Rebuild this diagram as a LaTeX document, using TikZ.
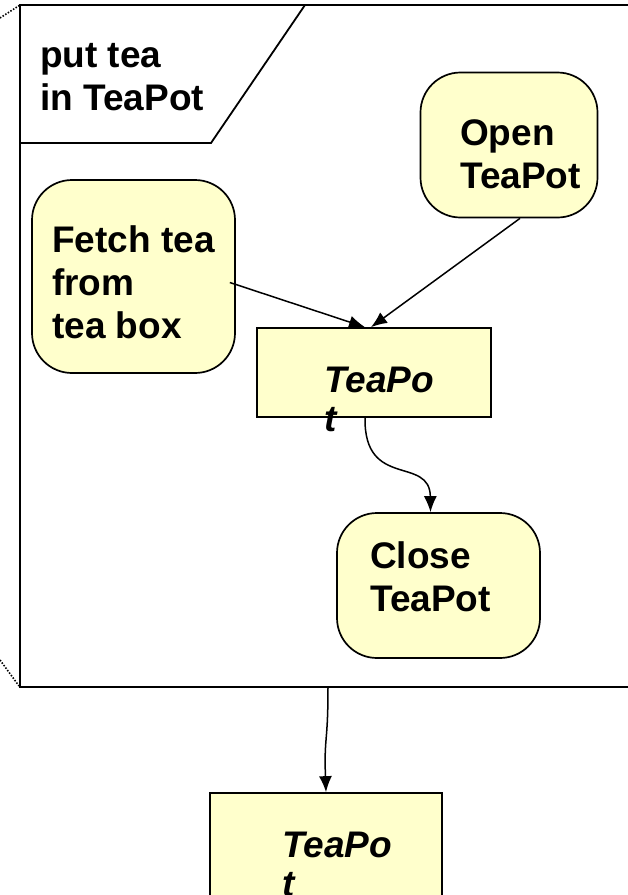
\documentclass[tikz,border=0pt]{standalone}
\usepackage{fontspec}
\setmainfont{Liberation Sans}
\usetikzlibrary{arrows.meta}
\definecolor{boxfill}{RGB}{255,255,204}
\tikzset{
  rbox/.style={draw=black, line width=1.7pt, fill=boxfill, rounded corners=40pt, inner sep=0pt},
  sbox/.style={draw=black, line width=1.7pt, fill=boxfill, inner sep=0pt},
  lbl/.style={anchor=north west, inner sep=0pt, align=left, font=\fontsize{37}{43}\selectfont\bfseries},
  ilbl/.style={anchor=north west, inner sep=0pt, align=left, font=\fontsize{37}{39}\selectfont\bfseries\itshape},
  arr/.style={draw=black, line width=1.5pt, -{Latex[length=16pt,width=13pt]}},
  frameline/.style={draw=black, line width=2.5pt},
  dotline/.style={draw=black, line width=1.6pt, dash pattern=on 1.5pt off 1.6pt}
}
\begin{document}
\begin{tikzpicture}[x=1pt, y=-1pt]
\useasboundingbox (0,0) rectangle (628,895);
\clip (0,0) rectangle (628,895);
\fill[white] (0,0) rectangle (628,895);
% frame
\draw[frameline] (630,5) -- (20,5) -- (20,687) -- (630,687);
\draw[dotline] (0,18) -- (20,5);
\draw[dotline] (0,660) -- (19,686);
\draw[line width=1.8pt] (305,5) -- (211,143) -- (20,143);
\node[lbl] (name) at (40,37) {\strut put tea\\in TeaPot};
\coordinate (fb) at (328,687);
% shapes
\node[rbox, minimum width=177pt, minimum height=145pt] (open) at (509,145) {};
\node[rbox, minimum width=203pt, minimum height=193pt] (fetch) at (133.5,276.5) {};
\node[sbox, minimum width=234pt, minimum height=89pt] (tp) at (374,372.5) {};
\node[rbox, minimum width=203pt, minimum height=145pt] (close) at (438.5,585.5) {};
\node[sbox, minimum width=232pt, minimum height=200pt] (bot) at (326,893) {};
% texts
\node[lbl] (opentxt) at (460,115) {\strut Open\\TeaPot};
\node[lbl] (fetchtxt) at (52,222) {\strut Fetch tea\\from\\tea box};
\node[lbl] (closetxt) at (370,538) {\strut Close\\TeaPot};
\node[ilbl] (tptxt) at (324,365) {\strut TeaPo\\t};
\node[ilbl] (bottxt) at (282,830) {\strut TeaPo\\t};
% connectors
\draw[arr] ([shift={(-6,6)}]fetch.east) -- ([xshift=-9]tp.north);
\draw[arr] ([xshift=11]open.south) -- ([xshift=-3]tp.north);
\draw[arr] ([xshift=-9]tp.south) .. controls (364,490) and (430,455) .. ([xshift=-8]close.north);
\draw[arr] (fb) .. controls (328,745) and (324,735) .. (bot.north);
\end{tikzpicture}
\end{document}
